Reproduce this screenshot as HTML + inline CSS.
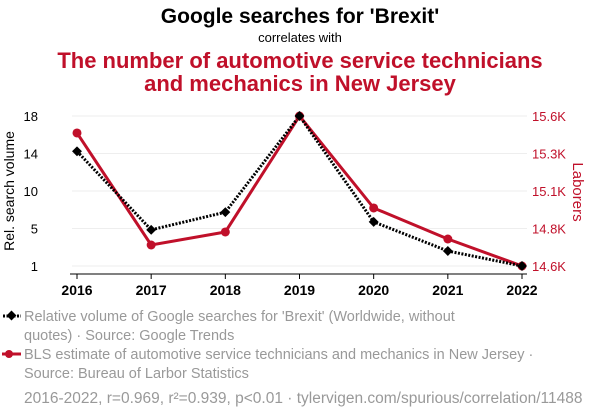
<!DOCTYPE html>
<html><head><meta charset="utf-8"><style>
body{margin:0;width:600px;height:414px;background:#fff;font-family:"Liberation Sans",sans-serif;overflow:hidden}
svg{display:block}
</style></head><body>
<svg id="c" width="600" height="414">
<text x="300" y="23" text-anchor="middle" font-size="21" font-weight="bold" fill="#000">Google searches for 'Brexit'</text>
<text x="300" y="42" text-anchor="middle" font-size="13" fill="#000">correlates with</text>
<text x="300" y="68" text-anchor="middle" font-size="22" font-weight="bold" fill="#c0102a">The number of automotive service technicians</text>
<text x="300" y="91" text-anchor="middle" font-size="22" font-weight="bold" fill="#c0102a">and mechanics in New Jersey</text>
<g id="grid"></g><g id="axes"></g><g id="marks"></g>
<text transform="translate(14,191) rotate(-90)" text-anchor="middle" font-size="14" fill="#000">Rel. search volume</text>
<text transform="translate(573,192) rotate(90)" text-anchor="middle" font-size="15" fill="#c0102a">Laborers</text>
<g>
<line x1="3" y1="316" x2="21" y2="316" stroke="#000" stroke-width="3" stroke-dasharray="2,1.5"/>
<rect x="8" y="312" width="7" height="7" transform="rotate(45 11.5 315.5)" fill="#000"/>
<text x="24" y="321" font-size="14.5" fill="#999">Relative volume of Google searches for 'Brexit' (Worldwide, without</text>
<text x="24" y="340" font-size="14.5" fill="#999">quotes) · Source: Google Trends</text></g>
<g>
<line x1="2" y1="354" x2="21" y2="354" stroke="#c0102a" stroke-width="3"/>
<circle cx="9" cy="354" r="4" fill="#c0102a"/>
<text x="24" y="359" font-size="14.5" fill="#999">BLS estimate of automotive service technicians and mechanics in New Jersey ·</text>
<text x="24" y="378" font-size="14.5" fill="#999">Source: Bureau of Larbor Statistics</text></g>
<text x="24" y="403" font-size="15.5" fill="#999">2016-2022, r=0.969, r²=0.939, p&lt;0.01 · tylervigen.com/spurious/correlation/11488</text>
</svg>
<script>
const years=["2016","2017","2018","2019","2020","2021","2022"];
const google=[14.0,5.1,7.1,18,6.0,2.7,1];
const laborers=[15487,14740,14827,15600,14987,14780,14600];
const leftTicks=[1,5.25,9.5,13.75,18];
const leftLabels=["1","5","10","14","18"];
const rightTicks=[14600,14850,15100,15350,15600];
const rightLabels=["14.6K","14.8K","15.1K","15.3K","15.6K"];
const NS="http://www.w3.org/2000/svg";
const x=i=>77+i*(522-77)/(years.length-1);
const yL=v=>266-(v-1)*(150/17);
const yR=v=>266-(v-14600)*(150/1000);
function mk(t,a,p){const e=document.createElementNS(NS,t);for(const k in a)e.setAttribute(k,a[k]);document.getElementById(p).appendChild(e);return e;}
leftTicks.forEach((v,i)=>{
 const g=mk("line",{x1:72,x2:527,y1:yL(v),y2:yL(v),stroke:"#eee","stroke-width":1},"grid");
 
 
 const t=mk("text",{x:38,y:yL(v)+5,"text-anchor":"end","font-size":13,fill:"#000"},"axes");t.textContent=leftLabels[i];
 
 
});
rightTicks.forEach((v,i)=>{
 const t=mk("text",{x:532,y:yR(v)+5,"font-size":13,fill:"#c0102a"},"axes");t.textContent=rightLabels[i];
 
 
});
const ax=mk("line",{x1:70,x2:527,y1:274,y2:274,stroke:"#000","stroke-width":1},"axes");


years.forEach((yv,i)=>{
 const tk=mk("line",{x1:x(i),x2:x(i),y1:274,y2:279,stroke:"#000"},"axes");
 
 
 const t=mk("text",{x:x(i),y:295,"text-anchor":"middle","font-size":14,"font-weight":"bold",fill:"#000"},"axes");t.textContent=yv;
 
 
});
const rl=mk("polyline",{points:laborers.map((v,i)=>x(i)+","+yR(v)).join(" "),fill:"none",stroke:"#c0102a","stroke-width":3},"marks");


const gl=mk("polyline",{points:google.map((v,i)=>x(i)+","+yL(v)).join(" "),fill:"none",stroke:"#000","stroke-width":3,"stroke-dasharray":"2,1.5"},"marks");


laborers.forEach((v,i)=>{
 const c=mk("circle",{cx:x(i),cy:yR(v),r:4.5,fill:"#c0102a"},"marks");
 
 
});
google.forEach((v,i)=>{
 const r=mk("rect",{x:x(i)-3.5,y:yL(v)-3.5,width:7,height:7,fill:"#000",transform:`rotate(45 ${x(i)} ${yL(v)})`},"marks");
 
 
});
</script>
</body></html>
